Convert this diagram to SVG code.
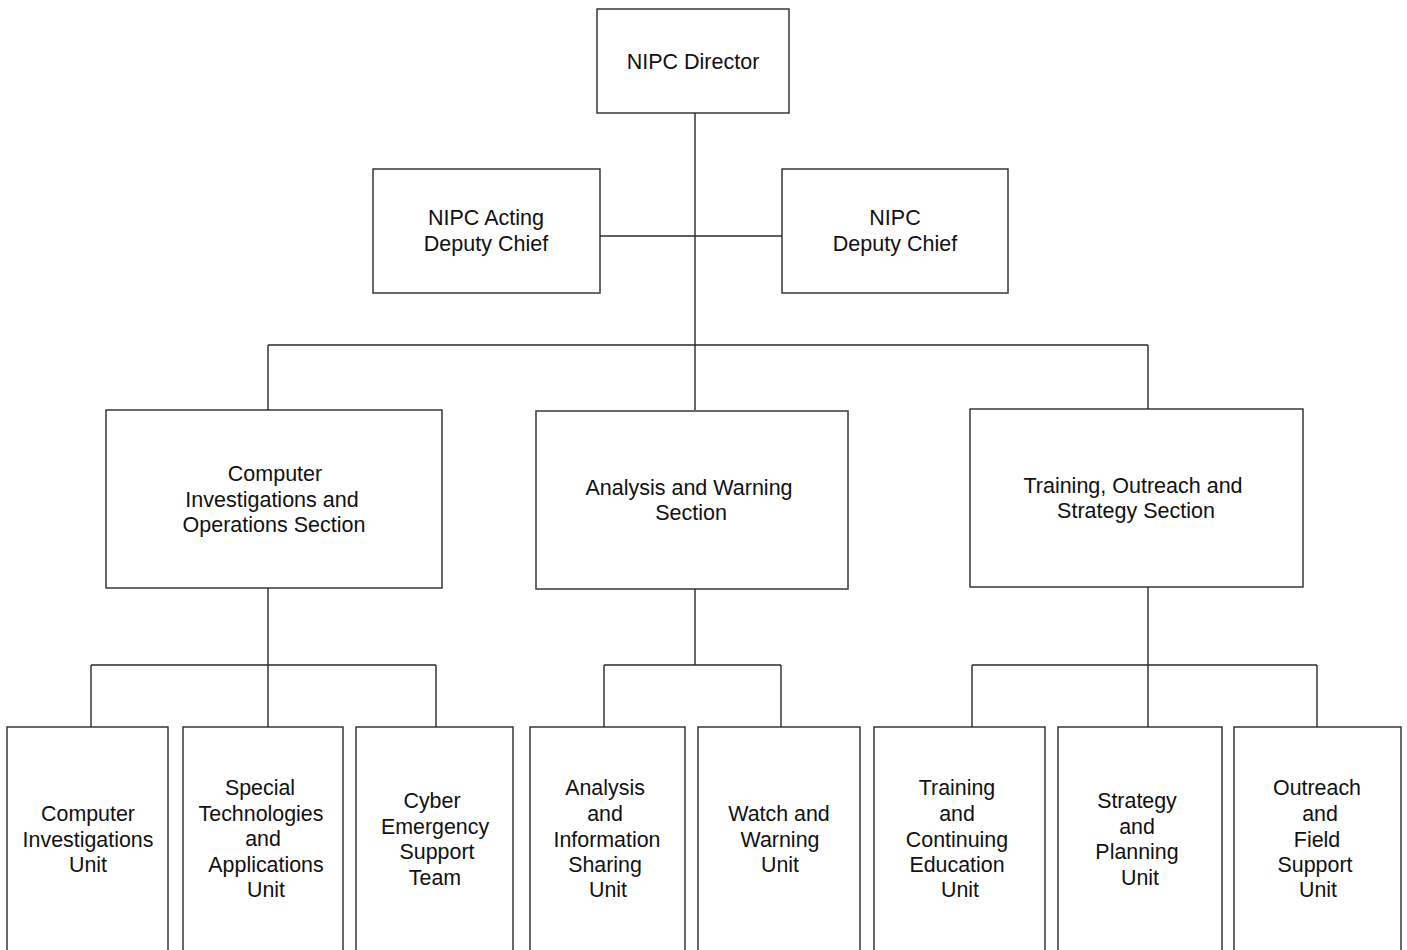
<svg xmlns="http://www.w3.org/2000/svg" width="1407" height="950" viewBox="0 0 1407 950">
<style>
.box{fill:#fff;stroke:#2a2a2a;stroke-width:1.4}
.ln{fill:none;stroke:#2a2a2a;stroke-width:1.4}
.t{font-family:"Liberation Sans",Arial,sans-serif;font-size:21.5px;fill:#111;text-anchor:middle}
.u{font-family:"Liberation Sans",Arial,sans-serif;font-size:21.4px;fill:#111;text-anchor:middle}
</style>
<rect width="1407" height="950" fill="#fff"/>
<g id="connectors">
<path class="ln" d="M695 113V410M600 236H782M268 345H1148M268 345V410M1148 345V409"/>
<path class="ln" d="M268 588V727M91 665H436M91 665V727M436 665V727"/>
<path class="ln" d="M695 589V665M604 665H781M604 665V727M781 665V727"/>
<path class="ln" d="M1148 587V727M972 665H1317M972 665V727M1317 665V727"/>
</g>
<g id="director"><rect class="box" x="597" y="9" width="192" height="104"/><text class="t" x="693" y="69">NIPC Director</text></g>
<g id="acting"><rect class="box" x="373" y="169" width="227" height="124"/><text class="t" x="486" y="225">NIPC Acting</text><text class="t" x="486" y="251">Deputy Chief</text></g>
<g id="deputy"><rect class="box" x="782" y="169" width="226" height="124"/><text class="t" x="895" y="225">NIPC</text><text class="t" x="895" y="251">Deputy Chief</text></g>
<g id="cios"><rect class="box" x="106" y="410" width="336" height="178"/><text class="t" x="275" y="481">Computer</text><text class="t" x="272" y="507">Investigations and</text><text class="t" x="274" y="532">Operations Section</text></g>
<g id="aws"><rect class="box" x="536" y="411" width="312" height="178"/><text class="t" x="689" y="495">Analysis and Warning</text><text class="t" x="691" y="520">Section</text></g>
<g id="toss"><rect class="box" x="970" y="409" width="333" height="178"/><text class="t" x="1133" y="493">Training, Outreach and</text><text class="t" x="1136" y="518">Strategy Section</text></g>
<g id="u1"><rect class="box" x="7" y="727" width="161" height="240"/><text class="u" x="88" y="821">Computer</text><text class="u" x="88" y="847">Investigations</text><text class="u" x="88" y="872">Unit</text></g>
<g id="u2"><rect class="box" x="183" y="727" width="160" height="240"/><text class="u" x="260" y="795">Special</text><text class="u" x="261" y="821">Technologies</text><text class="u" x="263" y="846">and</text><text class="u" x="266" y="872">Applications</text><text class="u" x="266" y="897">Unit</text></g>
<g id="u3"><rect class="box" x="356" y="727" width="157" height="240"/><text class="u" x="432" y="808">Cyber</text><text class="u" x="435" y="834">Emergency</text><text class="u" x="437" y="859">Support</text><text class="u" x="435" y="885">Team</text></g>
<g id="u4"><rect class="box" x="530" y="727" width="155" height="240"/><text class="u" x="605" y="795">Analysis</text><text class="u" x="605" y="821">and</text><text class="u" x="607" y="847">Information</text><text class="u" x="605" y="872">Sharing</text><text class="u" x="608" y="897">Unit</text></g>
<g id="u5"><rect class="box" x="698" y="727" width="162" height="240"/><text class="u" x="779" y="821">Watch and</text><text class="u" x="780" y="847">Warning</text><text class="u" x="780" y="872">Unit</text></g>
<g id="u6"><rect class="box" x="874" y="727" width="171" height="240"/><text class="u" x="957" y="795">Training</text><text class="u" x="957" y="821">and</text><text class="u" x="957" y="847">Continuing</text><text class="u" x="957" y="872">Education</text><text class="u" x="960" y="897">Unit</text></g>
<g id="u7"><rect class="box" x="1058" y="727" width="164" height="240"/><text class="u" x="1137" y="808">Strategy</text><text class="u" x="1137" y="834">and</text><text class="u" x="1137" y="859">Planning</text><text class="u" x="1140" y="885">Unit</text></g>
<g id="u8"><rect class="box" x="1234" y="727" width="167" height="240"/><text class="u" x="1317" y="795">Outreach</text><text class="u" x="1320" y="821">and</text><text class="u" x="1317" y="847">Field</text><text class="u" x="1315" y="872">Support</text><text class="u" x="1318" y="897">Unit</text></g>
</svg>
